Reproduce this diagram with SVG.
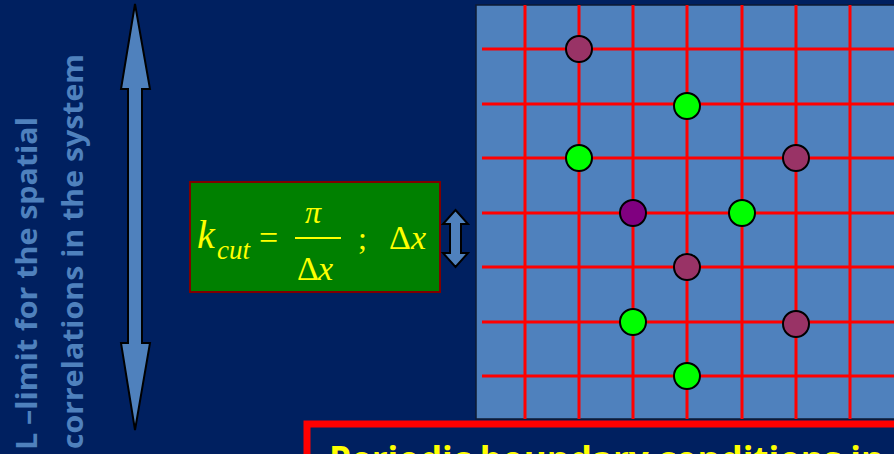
<svg xmlns="http://www.w3.org/2000/svg" width="894" height="454" viewBox="0 0 894 454">
<defs>
<style>
.bg{fill:#002060}
.side{font-family:"Open Sans","DejaVu Sans",sans-serif;font-weight:bold;font-size:29px;fill:#4F81BD}
.arrow{fill:#4F81BD;stroke:#000;stroke-width:2;stroke-linejoin:miter}
.grid line{stroke:#FF0000;stroke-width:3}
.atom{stroke:#000;stroke-width:2}
.m{fill:#993366}.g{fill:#00FF00}.p{fill:#800080}
.math{font-family:"Liberation Serif","Times New Roman",serif;fill:#FFFF00}
.it{font-style:italic}
.note{font-family:"Open Sans","DejaVu Sans",sans-serif;font-weight:bold;font-size:35px;fill:#FFFF00}
</style>
</defs>
<rect class="bg" x="0" y="0" width="894" height="454"/>

<g id="side-label">
<text class="side" transform="translate(37,450) rotate(-90)" textLength="333" lengthAdjust="spacingAndGlyphs">L –limit for the spatial</text>
<text class="side" transform="translate(83,449) rotate(-90)" textLength="395" lengthAdjust="spacingAndGlyphs">correlations in the system</text>
</g>

<g id="length-arrow">
<path class="arrow" d="M135,4 L150,89 L142,89 L142,343 L150,343 L135,430 L121,343 L128,343 L128,89 L121,89 Z"/>
</g>

<g id="formula">
<rect x="190" y="182" width="250" height="110" fill="#008000" stroke="#800000" stroke-width="2"/>
<text class="math it" x="197" y="248" font-size="40">k</text>
<text class="math it" x="217" y="259" font-size="27">cut</text>
<text class="math" x="259" y="249" font-size="34">=</text>
<text class="math it" x="305" y="223" font-size="32">π</text>
<rect x="295" y="237" width="46" height="2" fill="#FFFF00"/>
<text class="math" x="297" y="280" font-size="34">Δ</text>
<text class="math it" x="318" y="280" font-size="34">x</text>
<text class="math" x="358" y="249" font-size="32">;</text>
<text class="math" x="389" y="249" font-size="34">Δ</text>
<text class="math it" x="411" y="249" font-size="34">x</text>
</g>

<g id="dx-arrow">
<path class="arrow" d="M455.5,210 L468,224 L461,224 L461,253 L468,253 L455.5,267 L443,253 L450,253 L450,224 L443,224 Z"/>
</g>

<g id="lattice">
<rect x="476" y="5" width="430" height="414" fill="#4F81BD" stroke="#0d1a33" stroke-width="1.5"/>
<g class="grid">
<line x1="525" y1="5" x2="525" y2="419"/>
<line x1="579" y1="5" x2="579" y2="419"/>
<line x1="633" y1="5" x2="633" y2="419"/>
<line x1="687" y1="5" x2="687" y2="419"/>
<line x1="742" y1="5" x2="742" y2="419"/>
<line x1="796" y1="5" x2="796" y2="419"/>
<line x1="850" y1="5" x2="850" y2="419"/>
<line x1="482" y1="49" x2="894" y2="49"/>
<line x1="482" y1="104" x2="894" y2="104"/>
<line x1="482" y1="158" x2="894" y2="158"/>
<line x1="482" y1="213" x2="894" y2="213"/>
<line x1="482" y1="267" x2="894" y2="267"/>
<line x1="482" y1="322" x2="894" y2="322"/>
<line x1="482" y1="376" x2="894" y2="376"/>
</g>
<circle class="atom m" cx="579" cy="49" r="13"/>
<circle class="atom g" cx="687" cy="106" r="13"/>
<circle class="atom g" cx="579" cy="158" r="13"/>
<circle class="atom m" cx="796" cy="158" r="13"/>
<circle class="atom p" cx="633" cy="213" r="13"/>
<circle class="atom g" cx="742" cy="213" r="13"/>
<circle class="atom m" cx="687" cy="267" r="13"/>
<circle class="atom g" cx="633" cy="322" r="13"/>
<circle class="atom m" cx="796" cy="324" r="13"/>
<circle class="atom g" cx="687" cy="376" r="13"/>
</g>

<g id="note">
<rect x="307" y="424" width="620" height="60" fill="#002060" stroke="#FF0000" stroke-width="7"/>
<text class="note" x="329" y="472">Periodic boundary conditions in</text>
</g>
</svg>
